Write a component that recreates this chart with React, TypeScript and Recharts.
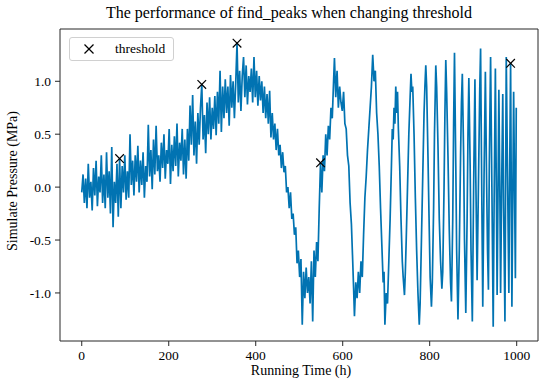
import React from "react";
import {
  ComposedChart,
  Line,
  Scatter,
  XAxis,
  YAxis,
  ReferenceArea,
} from "recharts";

const FONT = '"Liberation Serif", "Times New Roman", serif';

// [time (h), pressure (MPa)]
const rampSegment: [number, number][] = [
  [0, -0.05], [3, 0.12], [6, -0.15], [9, 0.08], [12, -0.2], [15, 0.22], [18, -0.1], [21, 0.05], [24, -0.22], [27, 0.18],
  [30, -0.08], [33, 0.25], [36, -0.18], [39, 0.1], [42, -0.05], [45, 0.3], [48, -0.15], [51, 0.12], [54, -0.2], [57, 0.33],
  [60, -0.1], [63, 0.15], [66, -0.25], [69, 0.38], [72, -0.38], [75, 0.05], [78, -0.15], [81, 0.22], [84, -0.28], [87, 0.27],
  [90, -0.2], [93, 0.2], [96, -0.05], [99, 0.3], [102, -0.12], [105, 0.15], [108, -0.1], [111, 0.5], [114, 0.02], [117, 0.25],
  [120, -0.08], [123, 0.3], [126, 0.05], [129, 0.39], [132, -0.05], [135, 0.25], [138, 0.02], [141, 0.33], [144, -0.1], [147, 0.2],
  [150, 0.05], [153, 0.59], [156, 0.1], [159, 0.35], [162, -0.02], [165, 0.45], [168, 0.12], [171, 0.58], [174, 0.15], [177, 0.3],
  [180, 0.05], [183, 0.42], [186, 0.18], [189, 0.5], [192, 0.08], [195, 0.35], [198, 0.22], [201, 0.55], [204, 0.03], [207, 0.4],
  [210, 0.15], [213, 0.48], [216, 0.2], [219, 0.6], [222, 0.1], [225, 0.42], [228, 0.25], [231, 0.55], [234, 0.12], [237, 0.45],
  [240, 0.08], [243, 0.55], [246, 0.25], [249, 0.77], [252, 0.4], [255, 0.87], [258, 0.3], [261, 0.62], [264, 0.22], [267, 0.7],
  [270, 0.4], [273, 0.75], [276, 0.97], [279, 0.45], [282, 0.68], [285, 0.32], [288, 0.8], [291, 0.5], [294, 0.85], [297, 0.45],
  [300, 0.75], [303, 0.55], [306, 0.86], [309, 0.49], [312, 0.9], [315, 0.6], [318, 1.1], [321, 0.52], [324, 0.95], [327, 0.65],
  [330, 1.02], [333, 0.7], [336, 0.95], [339, 0.58], [342, 1.06], [345, 0.75], [348, 1.0], [351, 0.65], [354, 0.98], [357, 1.36],
  [360, 0.8], [363, 1.1], [366, 0.72], [369, 1.05], [372, 1.23], [375, 0.85], [378, 1.15], [381, 0.78], [384, 1.05], [387, 0.9],
  [390, 1.12], [393, 0.8], [396, 1.23], [399, 0.85], [402, 1.1], [405, 0.77], [408, 1.05], [411, 0.82], [414, 1.0], [417, 0.7],
  [420, 0.95], [423, 0.65], [426, 0.88], [429, 0.6], [432, 0.91], [435, 0.47], [438, 0.7], [441, 0.45], [444, 0.6], [447, 0.35],
];

const fallSegment: [number, number][] = [
  [450, 0.55], [453, 0.3], [456, 0.4], [459, 0.18], [462, 0.33], [465, 0.14], [468, 0.2], [471, -0.05], [474, 0.0], [477, -0.2],
  [480, -0.05], [483, -0.3], [486, -0.25], [489, -0.45], [492, -0.38], [495, -0.72], [498, -0.6], [501, -0.85], [504, -0.68], [507, -1.3],
  [510, -0.8], [513, -1.05], [516, -0.76], [519, -1.0], [522, -0.85], [525, -1.1], [528, -0.7], [531, -1.27], [534, -0.6], [537, -0.85],
  [540, -0.52], [543, -0.7], [546, -0.2], [549, 0.23],
];

const waveSegment: [number, number][] = [
  [552, -0.05], [555, 0.3], [558, 0.15], [561, 0.5], [564, 0.3], [567, 0.58], [570, 0.45], [573, 0.75], [576, 0.65], [579, 1.0],
  [581, 1.22], [584, 0.85], [587, 1.1], [590, 0.75], [593, 0.95], [596, 0.8], [599, 0.72], [602, 0.9], [605, 0.6], [608, 0.55],
  [611, 0.3], [614, 0.2], [617, -0.15], [620, -0.35], [623, -0.7], [625, -0.95], [627, -1.22], [630, -0.9], [633, -1.05], [636, -0.8],
  [639, -1.0], [642, -0.7], [645, -0.85], [648, -0.45], [651, -0.1], [654, 0.1], [657, 0.35], [660, 0.55], [663, 0.75], [666, 0.95],
  [669, 1.25], [672, 1.0], [675, 1.1], [678, 0.7], [681, 0.5], [684, 0.2], [687, -0.2], [690, -0.55], [693, -0.9], [695, -0.8],
  [697, -1.3], [700, -1.0], [703, -1.1], [706, -0.7], [709, -0.3], [712, 0.2], [714, 0.55], [716, 0.45], [718, 0.75], [720, 0.6],
  [722, 0.95], [724, 0.7], [726, 0.9], [728, 0.55], [731, 0.2], [734, -0.3], [737, -0.7], [739, -0.85], [742, -1.02], [744, -0.8],
  [746, -0.5], [749, 0.0], [752, 0.5], [755, 0.85], [757, 1.07], [759, 0.9], [761, 0.95], [764, 0.5], [767, -0.1], [770, -0.6],
  [773, -1.0], [776, -1.3], [778, -1.1], [781, -0.5], [784, 0.1], [787, 0.7], [789, 0.95], [791, 1.15], [793, 0.95], [796, 0.3],
  [799, -0.4], [801, -0.85], [804, -1.13], [806, -0.9], [809, -0.2], [811, 0.5], [814, 1.15], [816, 0.95], [819, 0.4], [822, -0.3],
  [825, -0.7], [828, -0.96], [830, -0.8], [833, 0.0], [835, 0.7], [837, 1.2], [839, 0.9], [842, 0.3], [845, -0.4], [848, -0.9],
  [850, -1.08], [853, -0.3], [855, 0.6], [857, 1.27], [860, 0.2], [862, -0.6], [865, -1.25], [868, -0.6], [871, 0.3], [873, 0.8],
  [875, 1.07], [878, 0.3], [880, -0.5], [883, -1.19], [886, -0.3], [888, 0.5], [890, 1.03], [893, 0.2], [895, -0.6], [898, -1.27],
  [901, 0.0], [904, 1.02], [906, 0.1], [909, -0.88], [912, 0.0], [915, 0.9], [917, 1.31], [919, 0.3], [922, -1.13], [925, 0.1],
  [928, 1.09], [931, 0.0], [933, -0.6], [935, -0.97], [937, 0.2], [940, 1.23], [943, 0.0], [946, -1.32], [948, -0.2], [951, 1.12],
  [953, 0.1], [955, -1.02], [957, -0.1], [959, 0.92], [961, 0.1], [963, -1.0], [966, 0.2], [968, 0.88], [970, -0.2], [973, -1.27],
  [976, 1.23], [979, 0.1], [982, -1.0], [984, 0.2], [986, 1.17], [989, -1.13], [993, 0.9], [997, -0.86], [999, 0.75],
];

// peaks picked by find_peaks with the threshold setting
const peakTimes = [87, 276, 357, 549, 986];
const peakValues = [0.27, 0.97, 1.36, 0.23, 1.17];

const xTicks = [0, 200, 400, 600, 800, 1000];
const yTicks = [-1, -0.5, 0, 0.5, 1];
const xDomain: [number, number] = [-50, 1049];
const yDomain: [number, number] = [-1.454, 1.494];

const signal = [...rampSegment, ...fallSegment, ...waveSegment].map(
  ([t, v]) => ({ t, v })
);
const peaks = peakTimes.map((t, i) => ({ t, v: peakValues[i] }));

function XMark(props: any) {
  const { cx, cy } = props;
  const r = 4.3;
  return (
    <g stroke="#000" strokeWidth={1.2}>
      <line x1={cx - r} y1={cy - r} x2={cx + r} y2={cy + r} />
      <line x1={cx - r} y1={cy + r} x2={cx + r} y2={cy - r} />
    </g>
  );
}

const tickStyle = { fill: "#000", fontSize: 13.5, fontFamily: FONT };

export default function App() {
  return (
    <div
      style={{
        position: "absolute",
        left: 0,
        top: 0,
        width: 550,
        height: 386,
        background: "#fff",
        fontFamily: FONT,
      }}
    >
      <ComposedChart
        width={550}
        height={386}
        margin={{ top: 29, right: 12, bottom: 0, left: 0 }}
      >
        <XAxis
          type="number"
          dataKey="t"
          domain={xDomain}
          allowDataOverflow
          ticks={xTicks}
          interval={0}
          height={45}
          axisLine={false}
          tickLine={{ stroke: "#262626" }}
          tickSize={5}
          tickMargin={4}
          tick={tickStyle}
        />
        <YAxis
          type="number"
          domain={yDomain}
          allowDataOverflow
          ticks={yTicks}
          interval={0}
          width={60}
          axisLine={false}
          tickLine={{ stroke: "#262626" }}
          tickSize={5}
          tickMargin={4}
          tick={tickStyle}
          tickFormatter={(v: number) => v.toFixed(1)}
        />
        <ReferenceArea
          x1={xDomain[0]}
          x2={xDomain[1]}
          y1={yDomain[0]}
          y2={yDomain[1]}
          fill="none"
          stroke="#262626"
          strokeWidth={1}
        />
        <Line
          data={signal}
          dataKey="v"
          type="linear"
          stroke="#0173b2"
          strokeWidth={1.7}
          dot={false}
          isAnimationActive={false}
        />
        <Scatter
          data={peaks}
          dataKey="v"
          shape={XMark}
          isAnimationActive={false}
        />
      </ComposedChart>

      <div
        style={{
          position: "absolute",
          left: 50,
          top: 5,
          width: 478,
          textAlign: "center",
          fontSize: 16,
          lineHeight: 1,
          whiteSpace: "nowrap",
        }}
      >
        The performance of find_peaks when changing threshold
      </div>

      <div
        style={{
          position: "absolute",
          left: 62,
          top: 364,
          width: 478,
          textAlign: "center",
          fontSize: 14,
          lineHeight: 1,
        }}
      >
        Running Time (h)
      </div>

      <div
        style={{
          position: "absolute",
          left: 13,
          top: 181,
          fontSize: 14,
          lineHeight: 1,
          whiteSpace: "nowrap",
          transform: "translate(-50%, -50%) rotate(-90deg)",
        }}
      >
        Simulate Pressure (MPa)
      </div>

      <div
        style={{
          position: "absolute",
          left: 69,
          top: 37,
          width: 105,
          height: 24,
          boxSizing: "border-box",
          border: "1px solid #d0d0d0",
          borderRadius: 3,
          background: "rgba(255,255,255,0.8)",
        }}
      >
        <svg
          width={12}
          height={12}
          style={{ position: "absolute", left: 13, top: 5 }}
        >
          <line x1={1.5} y1={1.5} x2={10.5} y2={10.5} stroke="#000" strokeWidth={1.2} />
          <line x1={1.5} y1={10.5} x2={10.5} y2={1.5} stroke="#000" strokeWidth={1.2} />
        </svg>
        <span
          style={{
            position: "absolute",
            left: 45,
            top: 4,
            fontSize: 13.5,
            lineHeight: 1,
          }}
        >
          threshold
        </span>
      </div>
    </div>
  );
}
